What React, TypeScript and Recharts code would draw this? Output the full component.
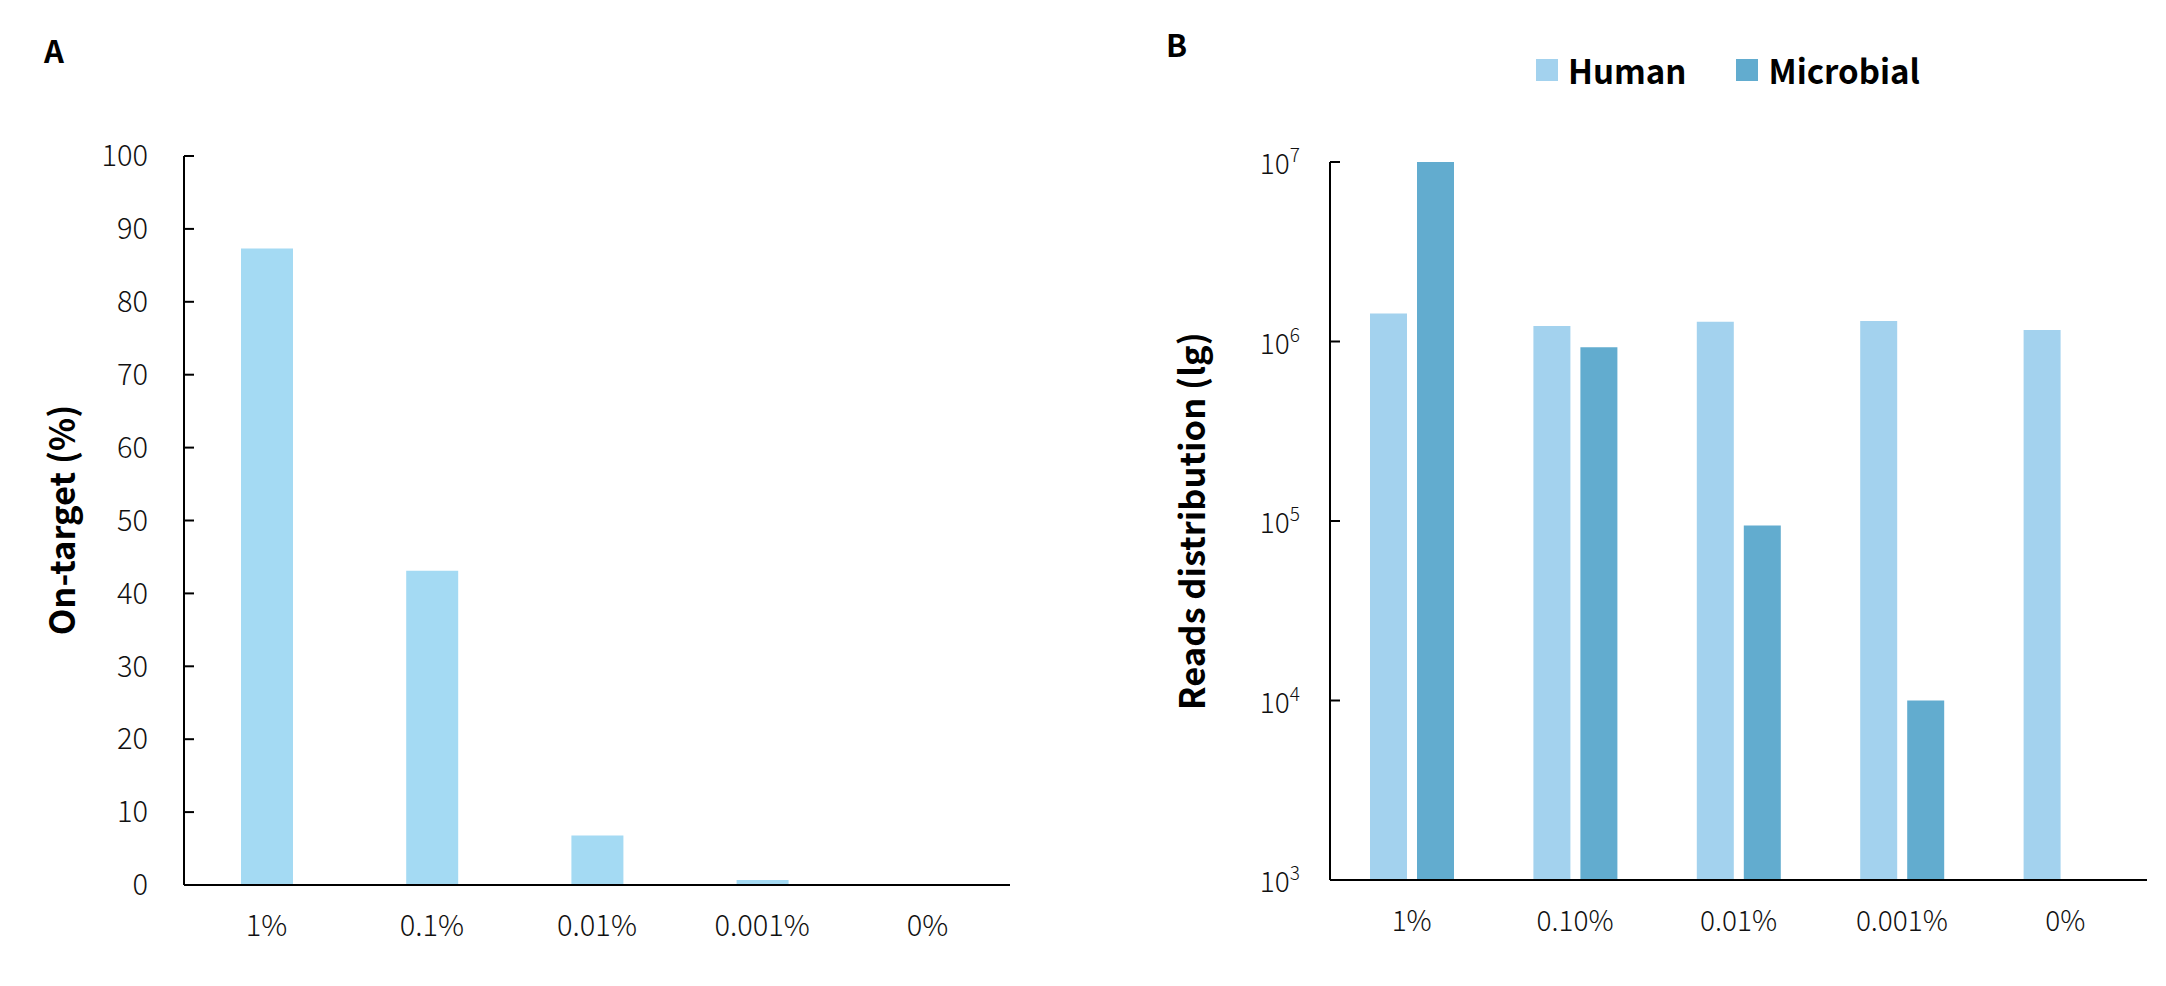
import { BarChart, Bar, XAxis, YAxis, Label } from 'recharts';

const categoriesA = ['1%', '0.1%', '0.01%', '0.001%', '0%'];
const onTarget = [87.3, 43.1, 6.8, 0.7, 0];
const percentTicks = [0, 10, 20, 30, 40, 50, 60, 70, 80, 90, 100];

const categoriesB = ['1%', '0.10%', '0.01%', '0.001%', '0%'];
const humanReads = [1.43e6, 1.22e6, 1.29e6, 1.3e6, 1.16e6];
const microbialReads = [1e7, 9.3e5, 9.45e4, 1.0e4, 970];
const logTicks = [1e3, 1e4, 1e5, 1e6, 1e7];

const seriesNames = ['Human', 'Microbial'];
const seriesColors = ['#A3D2EE', '#62ACCF'];

const FONT = '"Noto Sans CJK SC", "Noto Sans", sans-serif';

const dataA = categoriesA.map((c, i) => ({ name: c, value: onTarget[i] }));
const dataB = categoriesB.map((c, i) => ({
  name: c,
  human: humanReads[i],
  microbial: microbialReads[i],
}));

// 10^n tick with superscript exponent
function PowerTick(props: any) {
  const { x, y, payload } = props;
  const exp = Math.round(Math.log10(payload.value));
  return (
    <text x={x} y={y} textAnchor="end" dominantBaseline="central" fontFamily={FONT} fontWeight={300} fill="#111">
      <tspan fontSize={28}>10</tspan>
      <tspan fontSize={19} dy={-9}>{exp}</tspan>
    </text>
  );
}

function AxisTitle({ x, y, text }: { x: number; y: number; text: string }) {
  return (
    <text
      x={x}
      y={y}
      transform={`rotate(-90, ${x}, ${y})`}
      textAnchor="middle"
      dominantBaseline="central"
      fontFamily={FONT}
      fontWeight={700}
      fontSize={34.5}
      fill="#000"
    >
      {text}
    </text>
  );
}

export default function App() {
  const tickStyle = { fontFamily: FONT, fontWeight: 300, fill: '#111' };
  return (
    <div style={{ position: 'absolute', left: 0, top: 0, width: 2166, height: 986, fontFamily: FONT, background: '#fff' }}>
      <div style={{ position: 'absolute', left: 44, top: 30, fontSize: 31, fontWeight: 700, lineHeight: '40px' }}>A</div>
      <div style={{ position: 'absolute', left: 1166, top: 24, fontSize: 31, fontWeight: 700, lineHeight: '40px' }}>B</div>

      {/* panel A */}
      <div style={{ position: 'absolute', left: 0, top: 0 }}>
        <BarChart width={1050} height={986} data={dataA} margin={{ top: 156, right: 40, bottom: 41, left: 104 }}>
          <XAxis
            dataKey="name"
            height={60}
            tickLine={false}
            tickSize={0}
            tickMargin={30}
            axisLine={{ stroke: '#000', strokeWidth: 2 }}
            tick={{ ...tickStyle, fontSize: 29 }}
            interval={0}
          />
          <YAxis
            width={80}
            domain={[0, 100]}
            ticks={percentTicks}
            tickSize={-10}
            tickMargin={46}
            axisLine={{ stroke: '#000', strokeWidth: 2 }}
            tickLine={{ stroke: '#000', strokeWidth: 2 }}
            tick={{ ...tickStyle, fontSize: 29 }}
            interval={0}
          >
            <Label content={() => <AxisTitle x={60} y={520} text="On-target (%)" />} />
          </YAxis>
          <Bar dataKey="value" fill="#A4DAF3" barSize={52} isAnimationActive={false} />
        </BarChart>
      </div>

      {/* panel B legend */}
      <div style={{ position: 'absolute', left: 1536, top: 48, display: 'flex', alignItems: 'center' }}>
        {seriesNames.map((n, i) => (
          <div key={n} style={{ display: 'flex', alignItems: 'center', marginRight: i === 0 ? 50 : 0 }}>
            <div style={{ width: 22, height: 22, background: seriesColors[i], marginRight: 10 }} />
            <span style={{ fontSize: 33, fontWeight: 700, color: '#000', lineHeight: '44px' }}>{n}</span>
          </div>
        ))}
      </div>

      {/* panel B */}
      <div style={{ position: 'absolute', left: 1100, top: 0 }}>
        <BarChart
          width={1066}
          height={986}
          data={dataB}
          barGap={10}
          margin={{ top: 162, right: 19, bottom: 46, left: 150 }}
        >
          <XAxis
            dataKey="name"
            height={60}
            tickLine={false}
            tickSize={0}
            tickMargin={31}
            axisLine={{ stroke: '#000', strokeWidth: 2 }}
            tick={{ ...tickStyle, fontSize: 28 }}
            interval={0}
          />
          <YAxis
            width={80}
            scale="log"
            domain={[1000, 1e7]}
            allowDataOverflow
            ticks={logTicks}
            tickSize={-10}
            tickMargin={40}
            axisLine={{ stroke: '#000', strokeWidth: 2 }}
            tickLine={{ stroke: '#000', strokeWidth: 2 }}
            tick={<PowerTick />}
            interval={0}
          >
            <Label content={() => <AxisTitle x={90} y={521} text="Reads distribution (lg)" />} />
          </YAxis>
          <Bar dataKey="human" name={seriesNames[0]} fill={seriesColors[0]} barSize={37} isAnimationActive={false} />
          <Bar dataKey="microbial" name={seriesNames[1]} fill={seriesColors[1]} barSize={37} isAnimationActive={false} />
        </BarChart>
      </div>
    </div>
  );
}
